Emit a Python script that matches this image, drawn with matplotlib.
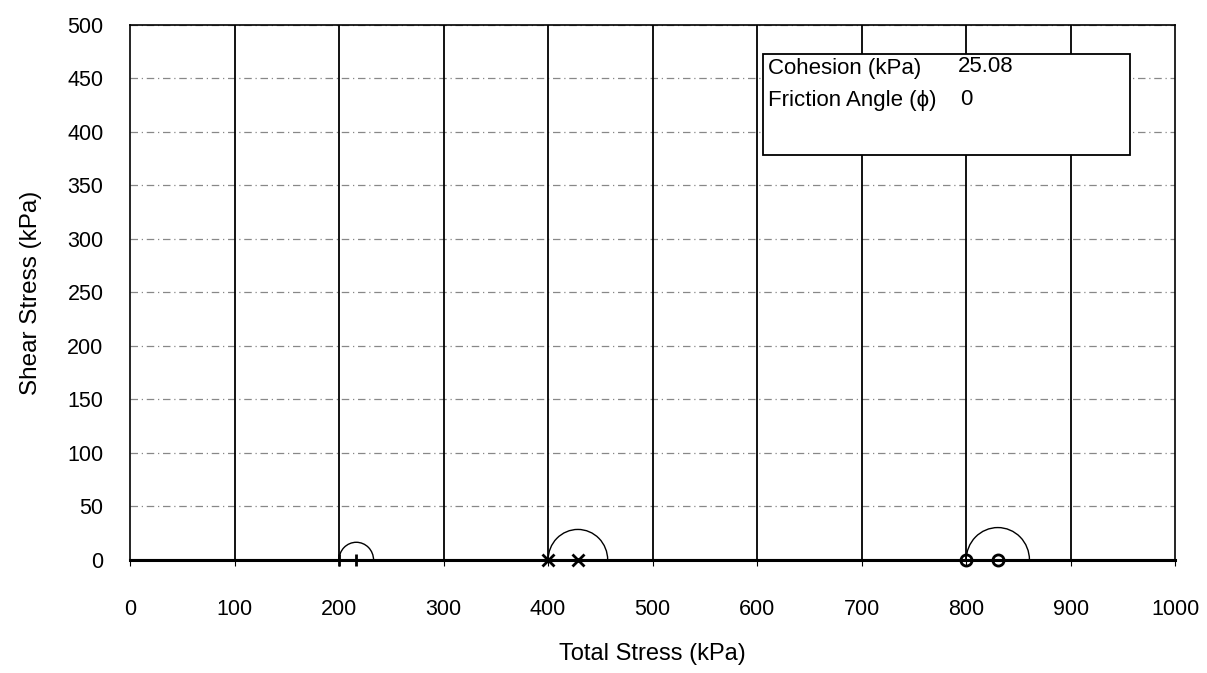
import numpy as np
import matplotlib
matplotlib.use("Agg")
import matplotlib.pyplot as plt
from matplotlib.patches import Arc, Rectangle

plt.rcParams['font.family'] = ['Liberation Sans', 'DejaVu Sans']

# Data
sigma3 = [200, 400, 800]          # minor principal stress (kPa)
radius = [16.5, 28.5, 30.25]      # circle radius (kPa)
markers = ['+', 'x', 'o']
cohesion = 25.08
friction_angle = 0

x_ticks = [0, 100, 200, 300, 400, 500, 600, 700, 800, 900, 1000]
y_ticks = [0, 50, 100, 150, 200, 250, 300, 350, 400, 450, 500]

fig = plt.figure(figsize=(12.07, 6.73), dpi=100)
ax = fig.add_axes([0.1077, 0.168, 0.866, 0.795])
ax.set_xlim(0, 1000)
ax.set_ylim(0, 500)

# grid
for y in y_ticks[1:]:
    ax.axhline(y, color='#888888', lw=0.9, ls=(0, (6, 3, 1, 3)), zorder=1)
for x in x_ticks[1:-1]:
    ax.axvline(x, color='black', lw=1.3, zorder=1)

# Mohr circles
for s3, r, m in zip(sigma3, radius, markers):
    c = s3 + r
    arc = Arc((c, 0), 2 * r, 2 * r, theta1=0, theta2=180, color='black',
              lw=1.0, zorder=3)
    ax.add_patch(arc)
    mfc = 'none' if m == 'o' else 'black'
    ax.plot([s3, c], [0, 0], ls='none', marker=m, color='black', ms=8,
            mew=2, mfc=mfc, zorder=4, clip_on=False)

# bottom line
ax.axhline(0, color='black', lw=2.2, zorder=2)

for side in ['left', 'right', 'top']:
    ax.spines[side].set_linewidth(1.2)
ax.spines['bottom'].set_linewidth(2.2)

ax.set_xticks(x_ticks)
ax.set_yticks(y_ticks)
ax.tick_params(axis='x', length=4, pad=24, labelsize=15.5)
ax.tick_params(axis='y', length=0, pad=19, labelsize=15.5)
ax.set_xlabel('Total Stress (kPa)', fontsize=17, labelpad=17)
ax.set_ylabel('Shear Stress (kPa)', fontsize=17.5, labelpad=18)

# text box
ax.add_patch(Rectangle((0.606, 0.756), 0.351, 0.19, transform=ax.transAxes,
                       facecolor='white', edgecolor='black', lw=1.3, zorder=5))
ax.text(0.610, 0.919, 'Cohesion (kPa)', transform=ax.transAxes, fontsize=16,
        va='center', ha='left', zorder=6)
ax.text(0.792, 0.922, f'{cohesion:.2f}', transform=ax.transAxes, fontsize=16,
        va='center', ha='left', zorder=6)
ax.text(0.610, 0.858, 'Friction Angle (ϕ)', transform=ax.transAxes, fontsize=16,
        va='center', ha='left', zorder=6)
ax.text(0.794, 0.861, f'{friction_angle}', transform=ax.transAxes, fontsize=16,
        va='center', ha='left', zorder=6)

fig.savefig('out.png', dpi=100)
